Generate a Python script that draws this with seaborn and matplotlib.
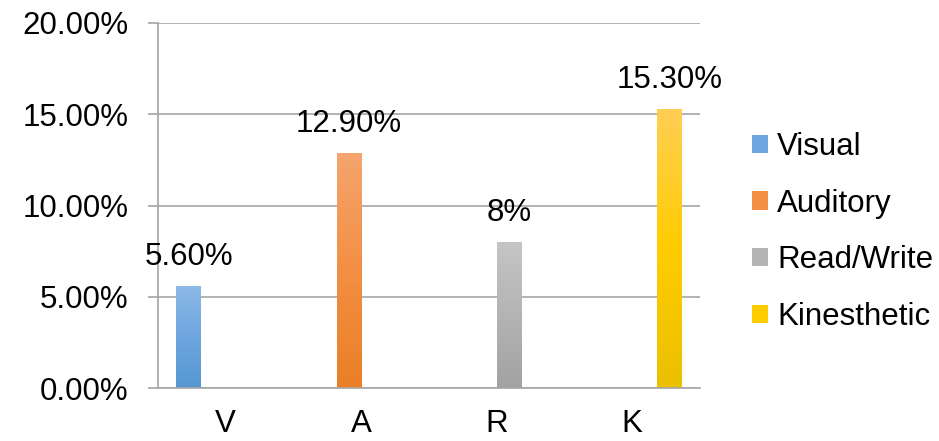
import numpy as np
import pandas as pd
import seaborn as sns
import matplotlib.pyplot as plt
from matplotlib.colors import LinearSegmentedColormap
from matplotlib.patches import Patch
from matplotlib.ticker import PercentFormatter

# datos del grafico
categorias = ['V', 'A', 'R', 'K']
estilos = ['Visual', 'Auditory', 'Read/Write', 'Kinesthetic']
valores = [0.056, 0.129, 0.08, 0.153]
etiquetas = ['5.60%', '12.90%', '8%', '15.30%']

df = pd.DataFrame({'categoria': categorias, 'estilo': estilos, 'valor': valores})

# colores degradados (abajo, medio, arriba)
gradientes = {
    'Visual': ['#5697D2', '#6EA6DF', '#8DB9E6'],
    'Auditory': ['#EA7F26', '#F38F44', '#F5A56E'],
    'Read/Write': ['#A2A2A2', '#B4B4B4', '#C5C5C5'],
    'Kinesthetic': ['#EBC000', '#FFCC00', '#FFCF55'],
}
gris = '#A6A6A6'
fs = 22.5

sns.set_style('white')
plt.rcParams['font.family'] = ['Liberation Sans', 'DejaVu Sans']
plt.rcParams['text.color'] = 'black'

fig = plt.figure(figsize=(9.39, 4.41), dpi=100)
ax = fig.add_axes([158 / 939, 53 / 441, 542 / 939, 365 / 441])

sns.barplot(data=df, x='categoria', y='valor', hue='estilo', order=categorias,
            hue_order=estilos, dodge=True, width=4 / 5.5, legend=False, ax=ax,
            palette=[gradientes[e][1] for e in estilos])

ax.set_xlim(-0.5, 3.5)
ax.set_ylim(0, 0.2)

# degradado en las barras
grad = np.linspace(0, 1, 256).reshape(-1, 1)
for cont, est in zip(ax.containers, estilos):
    cmap = LinearSegmentedColormap.from_list(est, gradientes[est])
    for barra in cont:
        x0, y0 = barra.get_x(), barra.get_y()
        x1, y1 = x0 + barra.get_width(), y0 + barra.get_height()
        im = ax.imshow(grad, extent=[x0, x1, y0, y1], origin='lower', cmap=cmap,
                       aspect='auto', zorder=barra.get_zorder())
        im.set_clip_path(barra)
        barra.set_facecolor('none')
        barra.set_edgecolor('none')
        ax.annotate(etiquetas[estilos.index(est)], (x0 + barra.get_width() / 2, y1),
                    xytext=(0, 15), textcoords='offset points', ha='center',
                    va='baseline', fontsize=fs, color='black')

ax.set_xlim(-0.5, 3.5)
ax.set_ylim(0, 0.2)
ax.set_aspect('auto')

# ejes
ax.set_yticks([0, 0.05, 0.10, 0.15, 0.20])
ax.yaxis.set_major_formatter(PercentFormatter(1.0, decimals=2))
ax.yaxis.grid(True, color=gris, linewidth=1.2)
ax.set_axisbelow(True)
for lado in ['top', 'right']:
    ax.spines[lado].set_visible(False)
for lado in ['left', 'bottom']:
    ax.spines[lado].set_color(gris)
    ax.spines[lado].set_linewidth(1.2)

ax.set_xticks(range(4))
ax.set_xticks([-0.5, 0.5, 1.5, 2.5, 3.5], minor=True)
ax.tick_params(axis='x', which='major', length=0, pad=15, labelsize=fs, labelcolor='black')
ax.tick_params(axis='x', which='minor', length=7, color=gris, width=1.2, direction='out')
ax.tick_params(axis='y', length=7, color=gris, width=1.2, direction='out', pad=14,
               labelsize=fs, left=True, labelcolor='black')
ax.set_xlabel('')
ax.set_ylabel('')

manijas = [Patch(facecolor=gradientes[e][1], edgecolor='none') for e in estilos]
fig.legend(manijas, estilos, loc='center left', bbox_to_anchor=(752 / 939, 0.474),
           frameon=False, fontsize=fs, borderpad=0, borderaxespad=0, handlelength=0.52,
           handleheight=0.52, handletextpad=0.28, labelspacing=0.85)

plt.savefig('out.png', dpi=100)
